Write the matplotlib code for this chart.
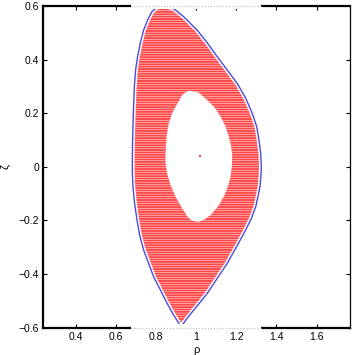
import numpy as np
import matplotlib
matplotlib.use('Agg')
import matplotlib.pyplot as plt
from matplotlib.path import Path
from matplotlib.patches import PathPatch, Rectangle

plt.rcParams['font.family'] = ['Liberation Sans', 'DejaVu Sans']
plt.rcParams['hatch.linewidth'] = 0.35
plt.rcParams['hatch.color'] = 'white'

# outer boundary (last closed flux surface)
outer_x = [0.830, 0.872, 0.897, 0.938, 1.005, 1.055, 1.105, 1.155, 1.205, 1.247,
           1.280, 1.302, 1.313, 1.322, 1.325, 1.322, 1.318, 1.308, 1.297, 1.272,
           1.238, 1.197, 1.155, 1.105, 1.055, 1.022, 0.988, 0.955, 0.925, 0.888,
           0.855, 0.822, 0.788, 0.763, 0.738, 0.718, 0.705, 0.693, 0.685, 0.682,
           0.682, 0.683, 0.685, 0.688, 0.692, 0.698, 0.708, 0.722, 0.738, 0.758,
           0.780, 0.805, 0.830]
outer_y = [0.600, 0.595, 0.585, 0.560, 0.510, 0.463, 0.411, 0.361, 0.311, 0.256,
           0.199, 0.150, 0.100, 0.050, 0.000, -0.043, -0.074, -0.111, -0.149, -0.198,
           -0.248, -0.304, -0.360, -0.416, -0.472, -0.503, -0.534, -0.565, -0.597, -0.553,
           -0.509, -0.460, -0.410, -0.360, -0.310, -0.254, -0.198, -0.136, -0.074, -0.024,
           0.025, 0.088, 0.150, 0.224, 0.299, 0.361, 0.411, 0.463, 0.510, 0.548,
           0.579, 0.595, 0.600]

# hole in the red grid region
hole_x = [0.972, 1.013, 1.055, 1.092, 1.122, 1.147, 1.163, 1.175, 1.180, 1.178,
          1.172, 1.158, 1.138, 1.108, 1.072, 1.038, 1.013, 0.980, 0.963, 0.930,
          0.897, 0.872, 0.855, 0.847, 0.847, 0.852, 0.863, 0.880, 0.897, 0.930,
          0.955, 0.972]
hole_y = [0.284, 0.277, 0.249, 0.222, 0.187, 0.150, 0.112, 0.075, 0.038, 0.000,
          -0.037, -0.074, -0.111, -0.149, -0.180, -0.198, -0.205, -0.201, -0.192, -0.155,
          -0.111, -0.068, -0.024, 0.013, 0.050, 0.112, 0.162, 0.199, 0.224, 0.268,
          0.282, 0.284]

axis_x = [1.018]
axis_y = [0.04]

fig = plt.figure(figsize=(3.53, 3.55), dpi=100)
ax = fig.add_axes([0.1227, 0.0769, 0.8688, 0.9062])

# red region = outer minus hole
verts = list(zip(outer_x, outer_y)) + list(zip(hole_x[::-1], hole_y[::-1]))
codes = ([Path.MOVETO] + [Path.LINETO] * (len(outer_x) - 2) + [Path.CLOSEPOLY] +
         [Path.MOVETO] + [Path.LINETO] * (len(hole_x) - 2) + [Path.CLOSEPOLY])
patch = PathPatch(Path(verts, codes), facecolor='#ff4545', edgecolor='white',
                  linewidth=0, hatch='-------', zorder=1)
ax.add_patch(patch)

ax.plot(outer_x, outer_y, color='white', lw=3.2, zorder=2)
ax.plot(outer_x, outer_y, color='#4b4bd8', lw=1.0, zorder=3)
ax.plot(axis_x, axis_y, 's', color='#ff4545', ms=1.5, mew=0, zorder=3)

ax.set_xlim(0.238, 1.767)
ax.set_ylim(-0.6, 0.6)
ax.set_xticks([0.4, 0.6, 0.8, 1.0, 1.2, 1.4, 1.6])
ax.set_xticklabels(['0.4', '0.6', '0.8', '1', '1.2', '1.4', '1.6'])
ax.set_yticks([-0.6, -0.4, -0.2, 0, 0.2, 0.4, 0.6])
ax.set_yticklabels(['\u22120.6', '\u22120.4', '\u22120.2', '0', '0.2', '0.4', '0.6'])
ax.tick_params(direction='in', top=True, right=True, labelsize=7.5, length=3,
               width=0.8, pad=3)
for s in ['left', 'bottom', 'top']:
    ax.spines[s].set_linewidth(1.6)
ax.spines['right'].set_linewidth(0.9)

# white band over the frame where the grid box sits
for yy in [0.6, -0.6]:
    ax.add_patch(Rectangle((0.675, yy - 0.012), 0.65, 0.024, facecolor='white',
                           edgecolor='none', clip_on=False, zorder=4))
    ax.plot([0.675, 1.325], [yy, yy], color='#bbbbbb', lw=0.8, ls=':',
            clip_on=False, zorder=5)

ax.set_xlabel('\u03c1', fontsize=8, labelpad=2)
ax.set_ylabel('\u03b6', fontsize=8, labelpad=6)

fig.savefig('out.png', dpi=100)
